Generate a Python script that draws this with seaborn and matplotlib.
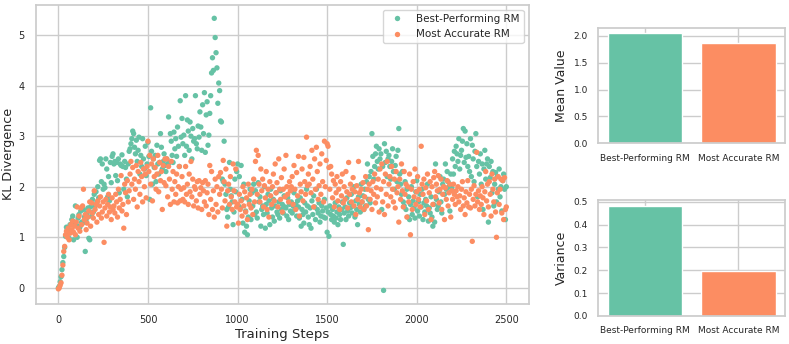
import numpy as np
import pandas as pd
import matplotlib
matplotlib.use('Agg')
import matplotlib.pyplot as plt
import seaborn as sns

# KL divergence samples, one every 5 training steps (0..2500)
steps = list(range(0, 2501, 5))

best_rm = [
    0.00, 0.03, 0.12, 0.22, 0.36, 0.50, 0.62, 0.80, 1.02, 1.20, 1.15, 1.08, 0.98, 1.25, 1.10, 1.35, 1.42, 0.95, 1.30, 1.62,
    1.25, 1.00, 1.38, 1.45, 1.20, 1.52, 1.30, 1.28, 1.55, 1.40, 0.72, 1.35, 1.48, 1.58, 0.98, 0.95, 1.60, 1.42, 1.75, 1.50,
    1.85, 1.62, 1.90, 1.70, 2.00, 1.78, 2.52, 2.55, 2.10, 2.45, 1.95, 2.05, 1.98, 2.55, 2.35, 1.80, 2.20, 1.72, 2.48, 2.08,
    2.60, 2.65, 2.45, 2.50, 2.22, 2.48, 2.12, 2.55, 1.88, 2.45, 2.42, 2.63, 2.40, 1.95, 2.50, 2.38, 2.15, 1.80, 2.45, 2.70,
    2.75, 2.85, 2.95, 3.10, 3.05, 2.78, 2.65, 2.92, 2.50, 2.72, 2.98, 2.25, 2.62, 2.40, 2.95, 2.55, 2.35, 2.80, 2.22, 2.45,
    2.88, 2.60, 1.75, 3.56, 2.70, 2.05, 2.55, 2.38, 2.62, 2.10, 2.82, 2.45, 2.25, 2.48, 3.05, 2.78, 2.35, 2.50, 2.65, 2.42,
    2.30, 2.55, 2.45, 3.38, 2.48, 3.05, 2.90, 2.62, 2.48, 3.08, 2.75, 2.95, 2.60, 3.18, 2.80, 2.40, 3.70, 2.98, 3.35, 2.85,
    3.02, 2.62, 3.80, 2.80, 3.32, 3.10, 2.72, 3.28, 3.00, 2.55, 3.15, 2.90, 2.95, 3.80, 2.85, 2.75, 3.20, 2.98, 3.48, 3.18,
    2.72, 3.62, 3.05, 3.86, 2.68, 3.42, 3.68, 2.82, 3.02, 3.45, 3.80, 4.25, 4.55, 4.30, 5.33, 4.95, 4.65, 4.35, 3.65, 4.05,
    3.90, 3.30, 3.28, 2.15, 2.10, 2.90, 2.05, 1.85, 1.55, 1.40, 1.60, 2.48, 1.95, 1.82, 1.70, 1.25, 1.50, 2.15, 1.90, 2.30,
    2.45, 1.62, 2.20, 1.58, 2.42, 1.75, 1.28, 2.05, 1.10, 1.52, 1.22, 1.05, 1.40, 1.72, 1.95, 1.35, 1.88, 1.62, 2.05, 1.45,
    1.92, 1.50, 1.38, 2.08, 1.70, 1.80, 1.22, 1.55, 1.62, 1.45, 2.00, 1.18, 1.65, 1.48, 1.85, 1.72, 1.25, 1.95, 1.58, 1.40,
    1.75, 1.32, 1.62, 1.88, 1.50, 1.45, 1.70, 1.38, 1.92, 1.55, 1.65, 1.48, 1.82, 1.60, 1.58, 1.42, 1.78, 1.35, 1.65, 1.52,
    1.70, 1.48, 1.62, 1.88, 1.55, 1.65, 1.42, 1.72, 1.60, 1.38, 1.78, 1.22, 1.55, 1.45, 1.28, 1.68, 1.50, 1.95, 1.62, 1.40,
    1.25, 1.58, 1.18, 1.72, 1.45, 1.82, 1.60, 1.35, 1.95, 1.55, 1.48, 1.68, 1.30, 1.42, 1.62, 1.52, 1.40, 1.75, 1.38, 1.58,
    1.10, 1.50, 1.02, 1.62, 1.45, 1.35, 1.55, 1.42, 1.30, 1.68, 1.38, 1.50, 1.25, 1.60, 1.45, 1.35, 1.55, 1.70, 0.86, 1.48,
    1.60, 1.35, 1.78, 1.52, 1.42, 1.68, 1.58, 1.85, 1.48, 1.62, 2.00, 1.40, 1.72, 1.55, 1.25, 1.80, 1.65, 1.50, 2.05, 1.70,
    1.82, 1.55, 1.95, 1.62, 2.10, 2.45, 1.75, 2.20, 1.68, 2.30, 3.05, 2.60, 2.15, 2.40, 2.65, 2.80, 2.50, 2.35, 2.75, 2.55,
    2.65, 1.55, 2.40, -0.05, 2.85, 2.48, 2.70, 2.20, 2.55, 2.62, 2.40, 2.15, 2.50, 2.75, 2.30, 1.95, 2.42, 2.60, 2.10, 2.72,
    3.15, 2.25, 2.05, 1.85, 2.30, 1.70, 1.62, 2.10, 1.55, 1.95, 1.40, 1.80, 1.35, 1.65, 2.00, 1.45, 1.72, 1.58, 1.38, 1.90,
    2.12, 1.52, 1.70, 1.42, 1.85, 1.60, 1.95, 1.35, 1.68, 1.50, 1.75, 1.62, 2.05, 1.32, 1.58, 1.48, 1.80, 1.40, 1.22, 1.65,
    1.30, 2.45, 1.75, 1.55, 1.62, 1.90, 2.20, 1.70, 1.48, 2.05, 2.15, 1.85, 2.45, 1.95, 2.30, 2.10, 2.00, 1.52, 2.25, 1.98,
    2.55, 2.25, 2.70, 2.40, 2.80, 2.65, 2.50, 2.95, 2.35, 2.62, 2.72, 2.90, 3.15, 2.48, 3.10, 2.58, 2.85, 2.40, 2.60, 2.30,
    2.95, 2.20, 2.82, 2.55, 2.10, 2.70, 3.05, 2.40, 1.80, 2.50, 2.25, 2.65, 2.05, 2.45, 1.55, 2.35, 2.72, 2.15, 2.45, 2.55,
    1.30, 2.40, 2.18, 2.50, 1.88, 2.30, 1.62, 2.05, 2.28, 1.70, 2.20, 1.95, 2.35, 1.80, 2.00, 1.52, 2.12, 2.25, 1.95, 1.35,
    2.00,
]

accurate_rm = [
    -0.02, 0.00, 0.05, 0.10, 0.25, 0.45, 0.72, 0.82, 1.05, 1.12, 1.00, 1.18, 0.95, 1.08, 1.25, 1.15, 1.32, 1.10, 1.22, 1.05,
    1.30, 1.60, 1.18, 1.42, 1.12, 1.58, 1.25, 1.62, 1.95, 1.35, 1.45, 1.15, 1.28, 1.40, 1.52, 1.70, 1.22, 1.68, 1.48, 1.38,
    1.92, 1.55, 1.65, 1.30, 1.72, 1.45, 1.62, 1.80, 1.38, 1.50, 1.70, 0.90, 1.58, 1.75, 1.42, 1.65, 1.85, 1.50, 1.60, 1.35,
    1.78, 1.55, 1.62, 1.48, 1.85, 1.70, 1.40, 1.95, 1.58, 1.75, 2.22, 1.52, 1.65, 1.18, 2.05, 1.88, 1.45, 2.12, 1.70, 1.92,
    2.25, 2.50, 2.05, 2.38, 1.75, 2.15, 1.95, 2.42, 1.60, 2.30, 2.10, 1.85, 2.48, 2.20, 1.70, 2.35, 2.00, 2.25, 1.78, 2.40,
    2.90, 2.30, 2.62, 2.05, 2.45, 1.72, 2.55, 2.20, 2.38, 1.95, 2.25, 2.62, 1.90, 2.48, 2.12, 2.30, 1.55, 2.42, 2.08, 2.55,
    2.02, 2.55, 1.80, 2.40, 2.15, 1.65, 2.50, 1.95, 2.30, 1.70, 2.10, 1.85, 2.25, 1.68, 2.00, 2.40, 1.72, 1.95, 2.20, 1.75,
    1.98, 1.70, 2.40, 1.85, 2.05, 1.65, 2.25, 1.90, 2.50, 1.80, 2.15, 1.62, 2.00, 1.95, 1.72, 2.10, 1.58, 2.12, 1.85, 1.98,
    1.55, 2.08, 1.92, 1.70, 2.12, 1.62, 1.88, 2.05, 1.45, 2.42, 1.75, 2.30, 1.55, 1.92, 1.40, 2.15, 1.65, 2.00, 1.50, 2.20,
    1.85, 2.28, 1.95, 1.58, 2.52, 2.10, 1.72, 2.35, 1.22, 1.92, 2.05, 1.65, 2.20, 1.80, 1.55, 2.45, 1.92, 1.70, 2.35, 1.60,
    1.65, 1.28, 1.85, 1.55, 1.72, 1.42, 2.00, 1.62, 1.90, 1.50, 1.78, 1.35, 2.05, 1.65, 1.85, 1.58, 1.95, 1.45, 2.15, 1.70,
    2.50, 2.72, 1.85, 2.62, 2.05, 1.70, 2.35, 1.92, 2.15, 1.60, 2.02, 1.78, 2.30, 1.55, 1.95, 1.40, 2.10, 1.82, 1.65, 2.00,
    2.25, 1.72, 2.45, 1.88, 2.08, 1.60, 2.55, 1.95, 1.75, 2.18, 1.50, 1.95, 2.35, 1.80, 2.62, 2.00, 1.85, 1.70, 2.10, 1.92,
    2.00, 2.20, 1.65, 2.42, 1.95, 1.55, 2.28, 1.82, 2.60, 1.42, 2.05, 1.90, 2.35, 1.72, 2.58, 2.10, 1.85, 2.98, 2.02, 2.25,
    2.05, 2.40, 1.88, 2.72, 2.15, 1.60, 2.55, 1.95, 2.78, 2.30, 1.75, 2.02, 2.45, 1.85, 2.65, 2.10, 1.70, 2.90, 2.00, 2.52,
    2.85, 2.80, 2.38, 1.95, 2.40, 2.25, 1.78, 2.12, 1.60, 2.05, 1.88, 2.20, 1.72, 1.95, 1.55, 2.10, 1.82, 2.25, 1.68, 2.00,
    1.75, 2.30, 1.90, 1.58, 2.48, 1.85, 2.05, 1.70, 1.95, 2.18, 1.62, 1.90, 1.45, 2.02, 1.75, 2.50, 1.88, 1.60, 1.95, 1.70,
    2.08, 1.55, 1.80, 2.20, 1.62, 1.95, 1.15, 2.05, 1.75, 1.92, 1.55, 2.10, 1.85, 2.25, 1.68, 1.98, 1.80, 2.15, 1.50, 2.35,
    1.95, 2.45, 1.70, 2.10, 1.45, 2.25, 1.85, 2.50, 1.62, 2.05, 2.20, 1.80, 2.40, 1.95, 1.70, 2.15, 1.58, 2.30, 1.88, 2.00,
    1.30, 2.15, 1.75, 2.45, 1.92, 1.60, 2.30, 1.85, 2.05, 1.40, 2.00, 1.70, 2.25, 1.05, 1.95, 1.55, 2.10, 1.80, 2.35, 1.65,
    1.90, 2.20, 1.75, 1.95, 1.60, 2.80, 2.05, 1.85, 2.15, 1.45, 1.98, 1.72, 2.25, 1.55, 1.88, 2.10, 1.35, 2.00, 1.65, 2.18,
    2.30, 1.80, 2.05, 1.92, 2.22, 1.68, 1.95, 2.15, 1.55, 1.85, 2.00, 1.35, 1.98, 1.75, 2.12, 1.62, 1.88, 2.05, 1.40, 1.92,
    1.75, 2.05, 1.85, 1.65, 1.92, 1.80, 2.00, 1.70, 1.82, 1.55, 1.95, 2.10, 1.62, 1.78, 1.45, 1.90, 1.68, 2.12, 1.60, 1.85,
    1.58, 1.95, 0.92, 1.75, 2.02, 1.62, 1.85, 2.68, 1.70, 1.92, 1.55, 1.82, 1.65, 2.00, 1.78, 1.45, 1.90, 2.30, 1.72, 2.05,
    1.60, 2.10, 1.85, 1.42, 2.25, 1.95, 1.70, 2.15, 1.50, 1.00, 1.88, 2.20, 1.65, 1.95, 2.15, 1.48, 2.12, 1.35, 2.18, 1.55,
    1.60,
]

models = ['Best-Performing RM', 'Most Accurate RM']
mean_values = [2.05, 1.86]
variances = [0.483, 0.198]

sns.set_theme(style='whitegrid')
palette = sns.color_palette('Set2', 2)

df = pd.DataFrame({
    'Training Steps': steps * 2,
    'KL Divergence': best_rm + accurate_rm,
    'Model': [models[0]] * len(steps) + [models[1]] * len(steps),
})
summary = pd.DataFrame({'Model': models, 'Mean Value': mean_values, 'Variance': variances})

fig = plt.figure(figsize=(7.89, 3.44), dpi=100)
ax = fig.add_axes([0.0456, 0.1163, 0.6245, 0.870])
ax_mean = fig.add_axes([0.7583, 0.5834, 0.2367, 0.3361])
ax_var = fig.add_axes([0.7583, 0.0814, 0.2367, 0.3372])

sns.scatterplot(data=df, x='Training Steps', y='KL Divergence', hue='Model',
                palette=palette, s=15, linewidth=0, alpha=1, ax=ax)
ax.set_xlabel('Training Steps', fontsize=9.5, labelpad=2)
ax.set_ylabel('KL Divergence', fontsize=9.2)
ax.yaxis.set_label_coords(-0.043, 0.5)
ax.tick_params(labelsize=7, pad=2)
ax.set_xticks([0, 500, 1000, 1500, 2000, 2500])
ax.legend(loc='upper right', fontsize=7.5, markerscale=1.0, frameon=True)

for a, col in [(ax_mean, 'Mean Value'), (ax_var, 'Variance')]:
    sns.barplot(data=summary, x='Model', y=col, hue='Model', palette=palette,
                legend=False, ax=a, saturation=1)
    a.set_xlabel('')
    a.set_ylabel(col, fontsize=9)
    a.tick_params(labelsize=6.5, pad=1.5)
    a.xaxis.grid(True)
    a.set_axisbelow(True)

ax_mean.set_yticks([0, 0.5, 1.0, 1.5, 2.0])
ax_var.set_yticks([0, 0.1, 0.2, 0.3, 0.4, 0.5])

fig.savefig('out.png', dpi=100)
